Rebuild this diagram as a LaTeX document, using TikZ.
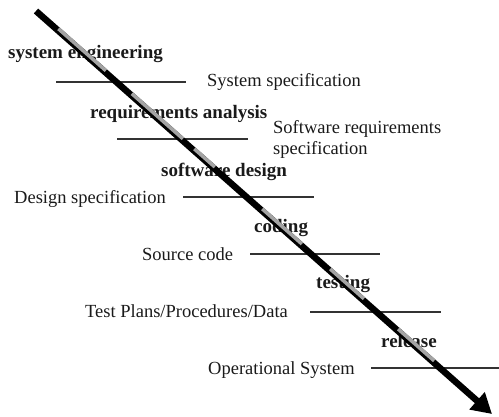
\documentclass[tikz,border=0pt]{standalone}
\usepackage{fontspec}
\setmainfont{Liberation Serif}
\usetikzlibrary{arrows.meta,calc}
\definecolor{txt}{HTML}{1A1A1A}
\definecolor{rulec}{HTML}{333333}
\definecolor{stripec}{HTML}{A4A4A4}
\begin{document}
\begin{tikzpicture}[x=1pt,y=-1pt,
  lbl/.style={anchor=base west, inner sep=0pt, text=txt, font=\fontsize{18.5}{21}\selectfont},
  phase/.style={lbl, font=\fontsize{19}{21}\selectfont\bfseries},
  rule/.style={draw=rulec, line width=1.5pt},
  bigarrow/.style={draw=black, line width=6.5pt, -{Triangle[length=20pt,width=22pt]}},
  stripe/.style={draw=stripec, line width=3.6pt}]
\useasboundingbox (0,0) rectangle (499,416);
% horizontal rules
\coordinate (r1a) at (56,82);   \coordinate (r1b) at (186,82);
\coordinate (r2a) at (117,139); \coordinate (r2b) at (248,139);
\coordinate (r3a) at (183,197); \coordinate (r3b) at (314,197);
\coordinate (r4a) at (250,254); \coordinate (r4b) at (380,254);
\coordinate (r5a) at (310,312); \coordinate (r5b) at (441,312);
\coordinate (r6a) at (371,368); \coordinate (r6b) at (499,368);
\foreach \i in {1,...,6} \draw[rule] (r\i a) -- (r\i b);
% phase labels
\node[phase] (se) at (8,58) {system engineering};
\node[phase] (ra) at (90,118) {requirements analysis};
\node[phase] (sd) at (161,176) {software design};
\node[phase] (cd) at (254,232) {coding};
\node[phase] (ts) at (316,288) {testing};
\node[phase] (rl) at (381,347) {release};
% products
\node[lbl] (ss) at (207,86) {System specification};
\node[lbl] (srs1) at (273,133) {Software requirements};
\node[lbl] (srs2) at (273,154) {specification};
\node[lbl] (ds) at (14,203) {Design specification};
\node[lbl] (sc) at (142,260) {Source code};
\node[lbl] (tp) at (85,317) {Test Plans/Procedures/Data};
\node[lbl] (os) at (208,374) {Operational System};
% main arrow
\coordinate (S) at (36,11);
\coordinate (E) at (492,414);
\draw[bigarrow] (S) -- (E);
\foreach \a/\b in {0.047/0.151, 0.208/0.320, 0.345/0.390, 0.494/0.581, 0.643/0.717, 0.792/0.871}
  \draw[stripe] ($(S)!\a!(E)+(1.0,-1.2)$) -- ($(S)!\b!(E)+(1.0,-1.2)$);
\end{tikzpicture}
\end{document}
